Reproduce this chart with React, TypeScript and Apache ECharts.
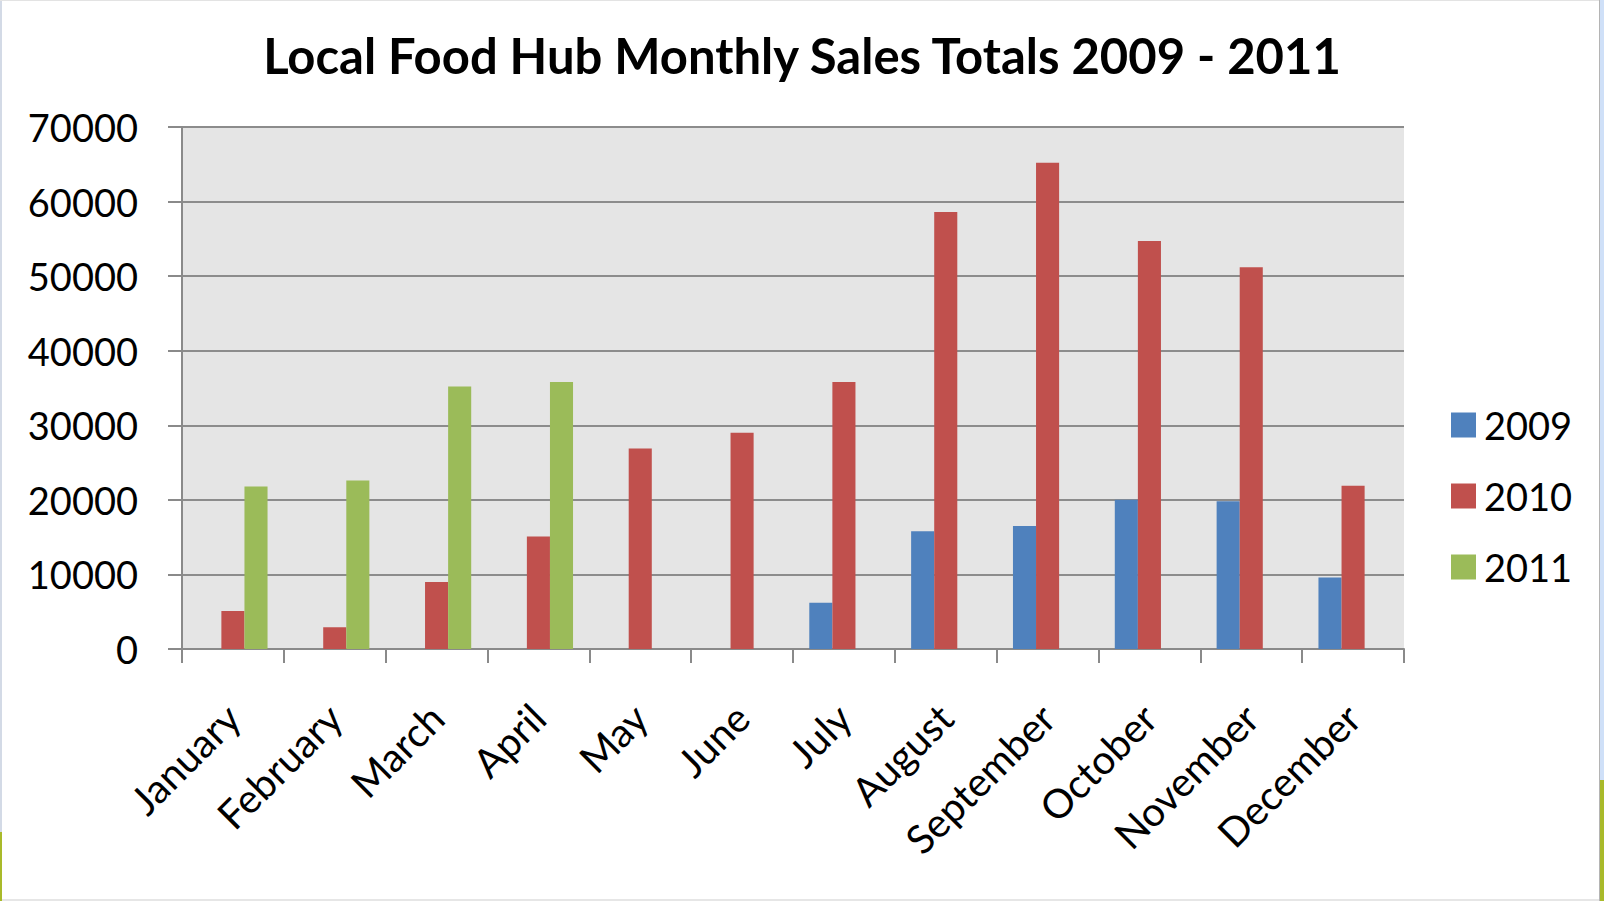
import React, { useEffect, useRef } from "react";
import * as echarts from "echarts";

const months = ["January", "February", "March", "April", "May", "June", "July", "August", "September", "October", "November", "December"];
const sales2009 = [null, null, null, null, null, null, 6200, 15800, 16500, 20000, 19800, 9600];
const sales2010 = [5100, 2900, 9000, 15100, 26900, 29000, 35800, 58600, 65200, 54700, 51200, 21900];
const sales2011 = [21800, 22600, 35200, 35800, null, null, null, null, null, null, null, null];
const seriesNames = ["2009", "2010", "2011"];
const seriesColors = ["#4F81BD", "#C0504D", "#9BBB59"];
const titleText = "Local Food Hub Monthly Sales Totals 2009 - 2011";

const FONT = "Lato";

export default function App() {
  const ref = useRef<HTMLDivElement>(null);
  useEffect(() => {
    const chart = echarts.init(ref.current!, null, { renderer: "svg" });
    const data = [sales2009, sales2010, sales2011];
    chart.setOption({
      animation: false,
      backgroundColor: "#ffffff",
      title: {
        text: titleText,
        left: "center",
        top: 25,
        textStyle: { fontFamily: FONT, fontSize: 49, fontWeight: "bold", color: "#000" },
      },
      legend: {
        orient: "vertical",
        left: 1446,
        top: 401,
        itemWidth: 25,
        itemHeight: 25,
        itemGap: 33,
        icon: "rect",
        textStyle: { fontFamily: FONT, fontSize: 38, color: "#000", lineHeight: 38, padding: [0, 0, 0, 3] },
        data: seriesNames,
      },
      grid: {
        left: 182,
        right: 200,
        top: 127,
        bottom: 252,
        show: true,
        backgroundColor: "#E5E5E5",
        borderWidth: 0,
      },
      xAxis: {
        type: "category",
        data: months,
        axisLine: { lineStyle: { color: "#8a8a8a", width: 2 } },
        axisTick: { show: true, length: 14, alignWithLabel: false, lineStyle: { color: "#8a8a8a", width: 2 } },
        axisLabel: { interval: 0, rotate: 45, margin: 62, fontFamily: FONT, fontSize: 40, color: "#000" },
      },
      yAxis: {
        type: "value",
        min: 0,
        max: 70000,
        interval: 10000,
        axisLine: { show: true, lineStyle: { color: "#8a8a8a", width: 2 } },
        axisTick: { show: true, length: 14, lineStyle: { color: "#8a8a8a", width: 2 } },
        splitLine: { show: true, lineStyle: { color: "#8c8c8c", width: 2 } },
        axisLabel: {
          margin: 44,
          fontFamily: FONT,
          fontSize: 38,
          color: "#000",
          formatter: (v: number) => String(v),
        },
      },
      series: seriesNames.map((name, i) => ({
        name,
        type: "bar",
        data: data[i],
        barGap: "0%",
        barCategoryGap: "32%",
        itemStyle: { color: seriesColors[i] },
      })),
      graphic: [
        { type: "rect", shape: { x: 0, y: 0, width: 2, height: 901 }, style: { fill: "#d3dae6" } },
        { type: "rect", shape: { x: 0, y: 0, width: 1604, height: 1 }, style: { fill: "#e3e3e3" } },
        { type: "rect", shape: { x: 0, y: 899, width: 1604, height: 2 }, style: { fill: "#e6e6e6" } },
        { type: "rect", shape: { x: 1599, y: 0, width: 1, height: 901 }, style: { fill: "#b4b4b4" } },
        { type: "rect", shape: { x: 1600, y: 0, width: 4, height: 901 }, style: { fill: "#cfe0f8" } },
        { type: "rect", shape: { x: 1600, y: 780, width: 4, height: 121 }, style: { fill: "#a9ba2a" } },
        { type: "rect", shape: { x: 0, y: 832, width: 2, height: 69 }, style: { fill: "#a9ba2a" } },
      ],
    });
    return () => chart.dispose();
  }, []);
  return (
    <div
      ref={ref}
      style={{ position: "absolute", left: 0, top: 0, width: 1604, height: 901 }}
    />
  );
}
